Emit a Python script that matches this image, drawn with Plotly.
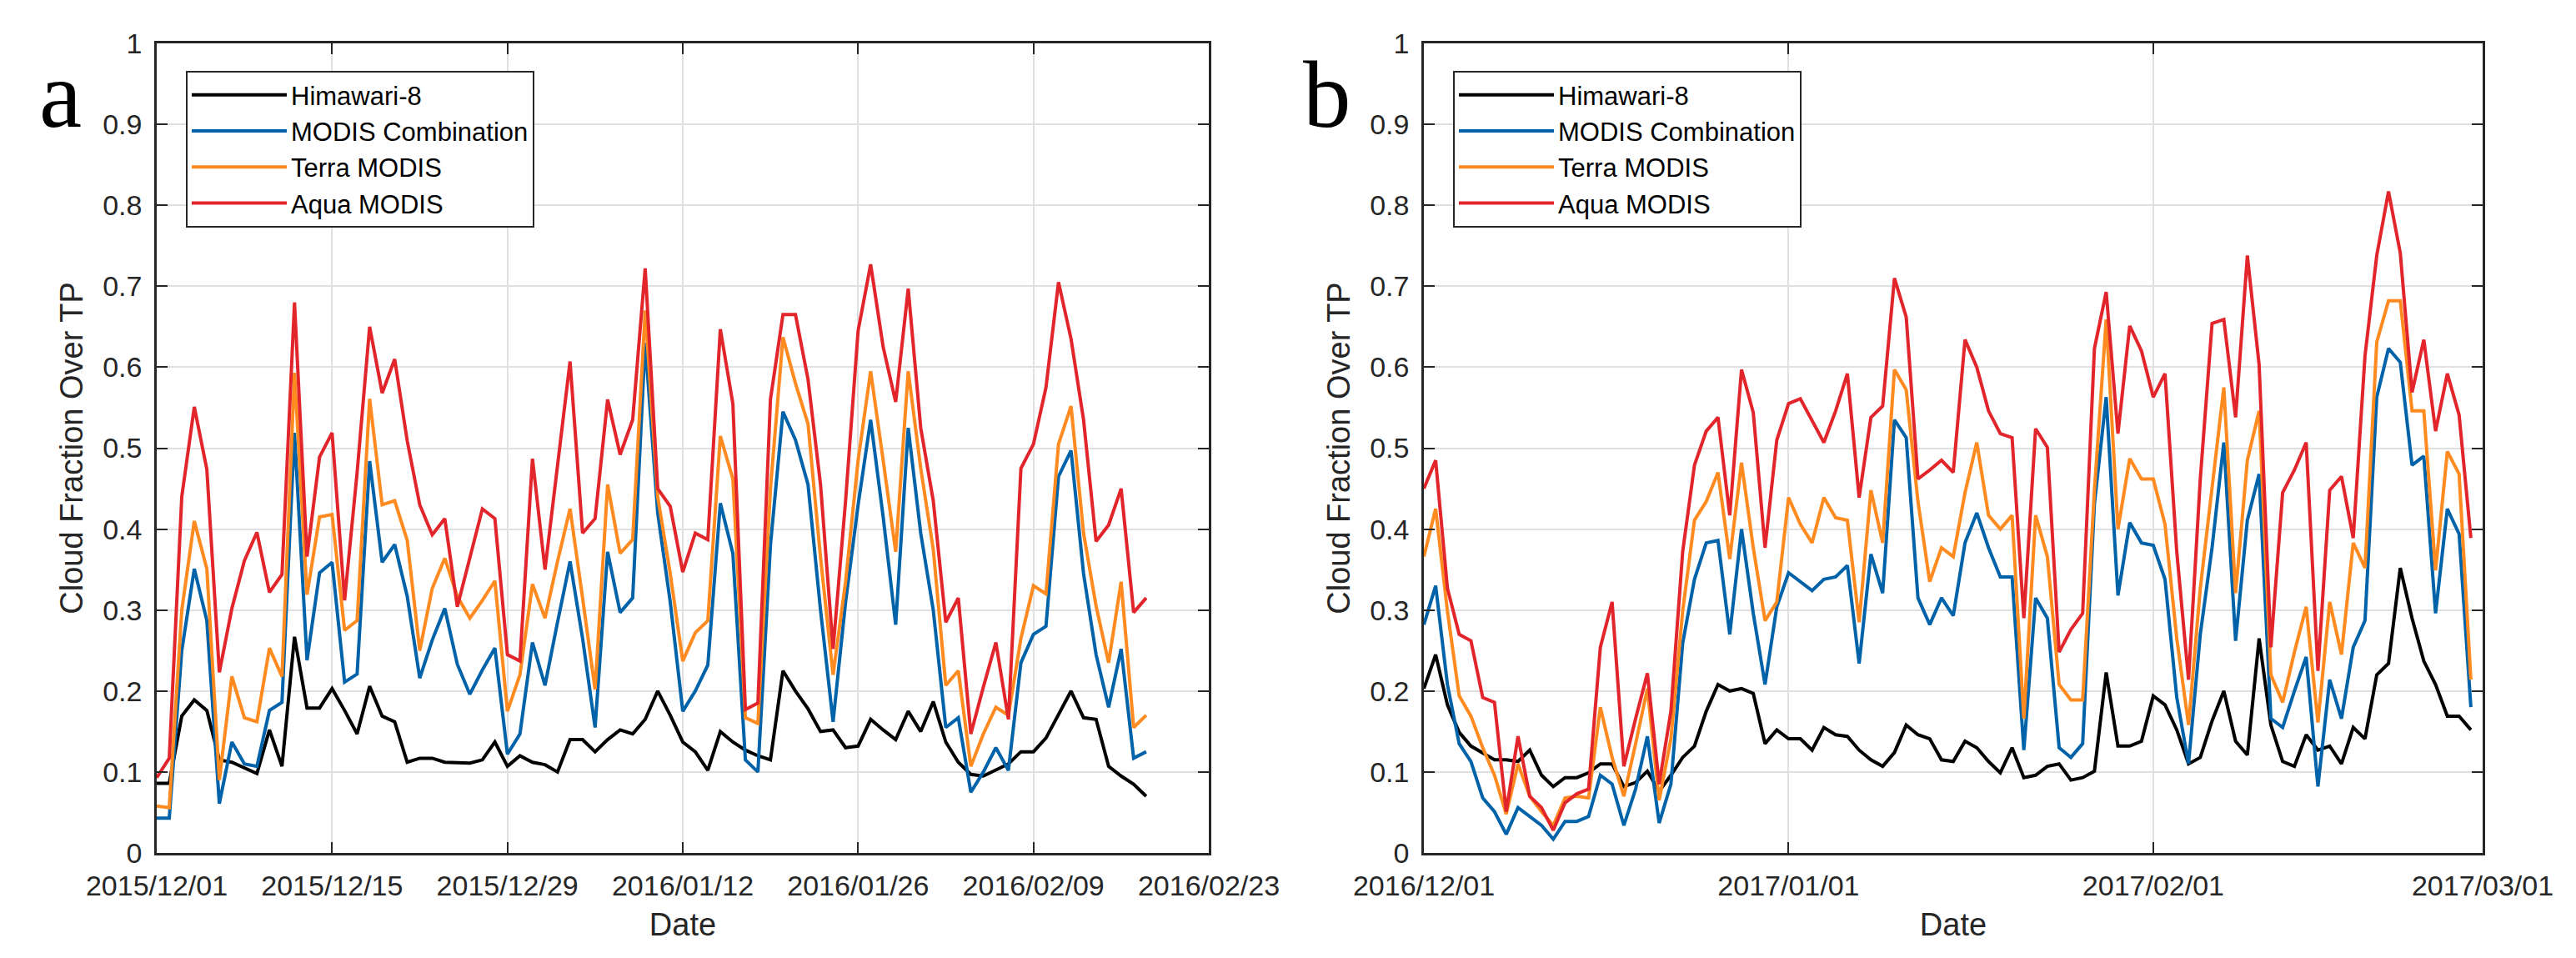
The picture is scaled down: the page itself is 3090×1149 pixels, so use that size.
import pandas as pd
import plotly.graph_objects as go
from plotly.subplots import make_subplots

# ---- data (daily cloud fraction over TP) ----
start_a = "2015-12-01"
start_b = "2016-12-01"

himawari_a = [0.086, 0.086, 0.169, 0.189, 0.176, 0.115, 0.112, 0.105, 0.098, 0.152,
              0.107, 0.267, 0.179, 0.179, 0.203, 0.176, 0.147, 0.206, 0.169, 0.162,
              0.112, 0.117, 0.117, 0.112, 0.111, 0.111, 0.115, 0.137, 0.107, 0.120,
              0.112, 0.109, 0.100, 0.140, 0.140, 0.125, 0.140, 0.152, 0.147, 0.165,
              0.200, 0.170, 0.137, 0.125, 0.102, 0.150, 0.137, 0.127, 0.120, 0.115,
              0.225, 0.200, 0.178, 0.150, 0.152, 0.130, 0.132, 0.165, 0.152, 0.140,
              0.175, 0.150, 0.187, 0.137, 0.112, 0.097, 0.095, 0.102, 0.110, 0.125,
              0.125, 0.142, 0.170, 0.200, 0.167, 0.165, 0.107, 0.095, 0.085, 0.070]
combo_a = [0.043, 0.043, 0.250, 0.351, 0.287, 0.061, 0.137, 0.110, 0.107, 0.176,
           0.186, 0.519, 0.238, 0.346, 0.359, 0.211, 0.221, 0.484, 0.359, 0.381,
           0.317, 0.216, 0.263, 0.302, 0.233, 0.196, 0.226, 0.253, 0.122, 0.147,
           0.260, 0.207, 0.285, 0.360, 0.265, 0.155, 0.372, 0.297, 0.315, 0.630,
           0.420, 0.310, 0.175, 0.200, 0.232, 0.432, 0.370, 0.115, 0.100, 0.380,
           0.545, 0.510, 0.455, 0.300, 0.162, 0.310, 0.430, 0.535, 0.415, 0.282,
           0.525, 0.395, 0.300, 0.155, 0.167, 0.075, 0.100, 0.130, 0.102, 0.235,
           0.270, 0.280, 0.465, 0.497, 0.345, 0.245, 0.180, 0.252, 0.117, 0.125]
terra_a = [0.058, 0.056, 0.300, 0.410, 0.351, 0.090, 0.218, 0.167, 0.162, 0.253,
           0.218, 0.593, 0.319, 0.415, 0.418, 0.275, 0.287, 0.561, 0.430, 0.435,
           0.386, 0.250, 0.327, 0.364, 0.317, 0.290, 0.312, 0.336, 0.175, 0.220,
           0.332, 0.290, 0.360, 0.425, 0.315, 0.202, 0.455, 0.370, 0.387, 0.670,
           0.440, 0.345, 0.237, 0.272, 0.287, 0.515, 0.462, 0.167, 0.160, 0.450,
           0.637, 0.580, 0.530, 0.365, 0.220, 0.335, 0.485, 0.595, 0.485, 0.372,
           0.595, 0.475, 0.375, 0.207, 0.225, 0.107, 0.147, 0.180, 0.170, 0.265,
           0.330, 0.320, 0.505, 0.552, 0.395, 0.305, 0.235, 0.335, 0.155, 0.170]
aqua_a = [0.093, 0.117, 0.440, 0.551, 0.474, 0.223, 0.302, 0.361, 0.396, 0.322,
          0.344, 0.680, 0.366, 0.489, 0.519, 0.312, 0.470, 0.650, 0.568, 0.610,
          0.509, 0.430, 0.393, 0.413, 0.304, 0.366, 0.425, 0.413, 0.245, 0.237,
          0.487, 0.350, 0.480, 0.607, 0.395, 0.413, 0.560, 0.492, 0.535, 0.722,
          0.450, 0.428, 0.347, 0.395, 0.387, 0.647, 0.555, 0.177, 0.185, 0.560,
          0.665, 0.665, 0.585, 0.455, 0.252, 0.435, 0.645, 0.727, 0.625, 0.557,
          0.697, 0.525, 0.435, 0.285, 0.315, 0.147, 0.205, 0.260, 0.165, 0.475,
          0.505, 0.575, 0.705, 0.635, 0.535, 0.385, 0.405, 0.450, 0.297, 0.315]

himawari_b = [0.203, 0.245, 0.183, 0.149, 0.132, 0.124, 0.115, 0.115, 0.113, 0.127,
              0.096, 0.082, 0.093, 0.093, 0.099, 0.110, 0.110, 0.082, 0.087, 0.101,
              0.076, 0.096, 0.118, 0.132, 0.175, 0.208, 0.200, 0.203, 0.197, 0.135,
              0.152, 0.141, 0.141, 0.127, 0.155, 0.146, 0.144, 0.127, 0.115, 0.107,
              0.124, 0.158, 0.146, 0.141, 0.115, 0.113, 0.138, 0.130, 0.113, 0.099,
              0.130, 0.093, 0.096, 0.107, 0.110, 0.090, 0.093, 0.101, 0.223, 0.132,
              0.132, 0.138, 0.194, 0.183, 0.152, 0.110, 0.118, 0.163, 0.200, 0.138,
              0.121, 0.265, 0.158, 0.113, 0.107, 0.146, 0.127, 0.132, 0.110, 0.155,
              0.141, 0.220, 0.234, 0.352, 0.290, 0.237, 0.208, 0.169, 0.169, 0.152]
combo_b = [0.282, 0.330, 0.208, 0.135, 0.113, 0.068, 0.051, 0.023, 0.056, 0.045,
           0.034, 0.017, 0.039, 0.039, 0.045, 0.096, 0.085, 0.034, 0.079, 0.144,
           0.037, 0.085, 0.259, 0.338, 0.383, 0.386, 0.270, 0.400, 0.296, 0.208,
           0.304, 0.346, 0.335, 0.324, 0.338, 0.341, 0.355, 0.234, 0.369, 0.321,
           0.535, 0.513, 0.315, 0.282, 0.315, 0.293, 0.383, 0.420, 0.377, 0.341,
           0.341, 0.127, 0.315, 0.290, 0.130, 0.118, 0.135, 0.431, 0.563, 0.318,
           0.408, 0.383, 0.380, 0.338, 0.192, 0.110, 0.270, 0.377, 0.507, 0.262,
           0.411, 0.468, 0.166, 0.155, 0.200, 0.242, 0.082, 0.214, 0.166, 0.254,
           0.287, 0.563, 0.623, 0.606, 0.479, 0.490, 0.296, 0.425, 0.394, 0.180]
terra_b = [0.366, 0.425, 0.299, 0.194, 0.169, 0.130, 0.096, 0.048, 0.110, 0.070,
           0.051, 0.034, 0.068, 0.070, 0.068, 0.180, 0.118, 0.070, 0.135, 0.203,
           0.065, 0.141, 0.299, 0.411, 0.434, 0.470, 0.363, 0.482, 0.377, 0.287,
           0.310, 0.439, 0.406, 0.383, 0.439, 0.414, 0.411, 0.285, 0.448, 0.383,
           0.597, 0.572, 0.434, 0.335, 0.377, 0.366, 0.445, 0.507, 0.417, 0.400,
           0.417, 0.166, 0.417, 0.366, 0.208, 0.189, 0.189, 0.448, 0.659, 0.400,
           0.487, 0.462, 0.462, 0.406, 0.265, 0.158, 0.327, 0.451, 0.575, 0.321,
           0.485, 0.546, 0.220, 0.186, 0.248, 0.304, 0.161, 0.310, 0.245, 0.383,
           0.352, 0.631, 0.682, 0.682, 0.546, 0.546, 0.349, 0.496, 0.468, 0.214]
aqua_b = [0.450, 0.485, 0.327, 0.270, 0.262, 0.192, 0.186, 0.051, 0.144, 0.070,
          0.056, 0.028, 0.062, 0.073, 0.079, 0.254, 0.310, 0.107, 0.166, 0.222,
          0.085, 0.175, 0.372, 0.479, 0.521, 0.538, 0.417, 0.597, 0.544, 0.377,
          0.510, 0.555, 0.561, 0.535, 0.507, 0.546, 0.592, 0.439, 0.538, 0.552,
          0.710, 0.662, 0.462, 0.473, 0.485, 0.470, 0.634, 0.600, 0.546, 0.518,
          0.513, 0.290, 0.524, 0.501, 0.248, 0.276, 0.296, 0.623, 0.693, 0.518,
          0.651, 0.620, 0.563, 0.592, 0.372, 0.214, 0.462, 0.654, 0.659, 0.538,
          0.738, 0.603, 0.254, 0.445, 0.473, 0.507, 0.225, 0.448, 0.465, 0.389,
          0.614, 0.738, 0.817, 0.741, 0.569, 0.634, 0.521, 0.592, 0.541, 0.389]

ticks_a = ["2015-12-01", "2015-12-15", "2015-12-29", "2016-01-12",
           "2016-01-26", "2016-02-09", "2016-02-23"]
ticks_b = ["2016-12-01", "2017-01-01", "2017-02-01", "2017-03-01"]

series_names = ["Himawari-8", "MODIS Combination", "Terra MODIS", "Aqua MODIS"]
series_colors = ["#000000", "#0062a8", "#ff8a1f", "#e2252b"]

W, H = 3074, 1133
TEXT = "#262626"
FONT = "Liberation Sans, Arial, sans-serif"

fig = make_subplots(rows=1, cols=2)

panels = [
    (1, start_a, [himawari_a, combo_a, terra_a, aqua_a], "legend"),
    (2, start_b, [himawari_b, combo_b, terra_b, aqua_b], "legend2"),
]
for col, start, series, leg in panels:
    dates = pd.date_range(start, periods=len(series[0]), freq="D")
    for name, color, values in zip(series_names, series_colors, series):
        fig.add_trace(
            go.Scatter(x=dates, y=values, mode="lines", name=name,
                       line=dict(color=color, width=4), legend=leg),
            row=1, col=col,
        )

axis_common = dict(
    showline=True, linecolor=TEXT, linewidth=2.5, mirror="ticks",
    ticks="inside", ticklen=13, tickwidth=2, tickcolor=TEXT,
    showgrid=True, gridcolor="#e0e0e0", gridwidth=2, zeroline=False,
    tickfont=dict(family=FONT, size=34, color=TEXT),
    automargin=False,
)
title_font = dict(family=FONT, size=38, color=TEXT)

fig.update_xaxes(axis_common)
fig.update_yaxes(axis_common)

fig.update_xaxes(range=[ticks_a[0], ticks_a[-1]], tickvals=ticks_a,
                 tickformat="%Y/%m/%d", domain=[180 / W, 1442 / W],
                 ticklabelstandoff=7,
                 title=dict(text="Date", font=title_font, standoff=16),
                 row=1, col=1)
fig.update_xaxes(range=[ticks_b[0], ticks_b[-1]], tickvals=ticks_b,
                 tickformat="%Y/%m/%d", domain=[1700 / W, 2970 / W],
                 ticklabelstandoff=7,
                 title=dict(text="Date", font=title_font, standoff=16),
                 row=1, col=2)

y_dom = [1 - 1015 / H, 1 - 44 / H]
for col in (1, 2):
    fig.update_yaxes(range=[0, 1], dtick=0.1, domain=y_dom,
                     ticklabelstandoff=8,
                     title=dict(text="Cloud Fraction Over TP", font=title_font,
                                standoff=12),
                     row=1, col=col)

legend_style = dict(
    xanchor="left", yanchor="top", y=1 - 77 / H,
    bgcolor="white", bordercolor=TEXT, borderwidth=2,
    font=dict(family=FONT, size=31, color="#000000"),
    itemwidth=114, tracegroupgap=0,
)
fig.update_layout(
    legend=dict(legend_style, x=215 / W),
    legend2=dict(legend_style, x=1735 / W),
)

# panel letters
for letter, px in (("a", 64), ("b", 1584)):
    fig.add_annotation(text=letter, xref="paper", yref="paper",
                       x=px / W, y=1 - 105 / H, xanchor="center", yanchor="middle",
                       showarrow=False,
                       font=dict(family="Liberation Serif, Times New Roman, serif",
                                 size=115, color="#000000"))

fig.update_layout(
    width=W, height=H,
    margin=dict(l=0, r=0, t=0, b=0, autoexpand=False),
    paper_bgcolor="white", plot_bgcolor="white",
    showlegend=True,
)

fig.write_html("out.html")
